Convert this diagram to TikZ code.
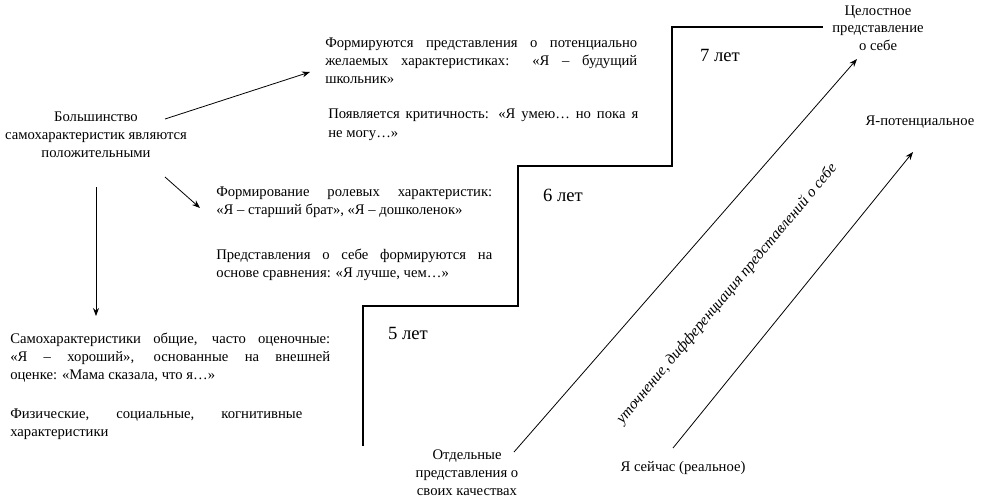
\documentclass[tikz,border=0pt]{standalone}
\usepackage{fontspec}
\setmainfont{Liberation Serif}
\usetikzlibrary{arrows.meta}
\newdimen\pxu \pxu=0.75pt
\newcommand\jline[2]{\makebox[#1\pxu][s]{#2}}
\tikzset{
  txt/.style={inner sep=0pt, align=left, font=\fontsize{11}{13.5}\selectfont},
  ctxt/.style={inner sep=0pt, align=center, font=\fontsize{11}{13.5}\selectfont},
  agelbl/.style={inner sep=0pt, font=\fontsize{14}{16}\selectfont},
  arr/.style={line width=0.6pt, -{Stealth[length=6pt,width=4.5pt]}},
  stair/.style={line width=1.2pt}
}
\begin{document}
\begin{tikzpicture}[x=0.75pt,y=-0.75pt]
\useasboundingbox (0,0) rectangle (981,503);

% left column (anchor=base is the baseline of the last line)
\node[ctxt, anchor=base] (maj) at (96,157) {Большинство\\самохарактеристик являются\\положительными};

\node[txt, anchor=base west] (ba) at (325,84) {\jline{312}{Формируются представления о потенциально}\\\jline{312}{желаемых характеристиках: «Я – будущий}\\школьник»};
\node[txt, anchor=base west] (bb) at (328,137) {\jline{310}{Появляется критичность: «Я умею… но пока я}\\не могу…»};
\node[txt, anchor=base west] (bc) at (216,214) {\jline{276}{Формирование ролевых характеристик:}\\«Я – старший брат», «Я – дошколенок»};
\node[txt, anchor=base west] (bd) at (216,277) {\jline{276}{Представления о себе формируются на}\\основе сравнения: «Я лучше, чем…»};
\node[txt, anchor=base west] (be) at (10,379) {\jline{320}{Самохарактеристики общие, часто оценочные:}\\\jline{320}{«Я – хороший», основанные на внешней}\\оценке: «Мама сказала, что я…»};
\node[txt, anchor=base west] (bf) at (10,436) {\jline{292}{Физические, социальные, когнитивные}\\характеристики};

\coordinate (m1) at (165,119);
\coordinate (t1) at (310,72);
\coordinate (m2) at (165,177);
\coordinate (t2) at (200,208);
\coordinate (m3) at (96,187);
\coordinate (t3) at (96,316);
\draw[arr] (m1) -- (t1);
\draw[arr] (m2) -- (t2);
\draw[arr] (m3) -- (t3);

% staircase
\draw[stair] (363,446) -- (363,306) -- (518,306) -- (518,166) -- (672,166) -- (672,27) -- (823,27);
\node[agelbl] (a5) at (408,333) {5 лет};
\node[agelbl] (a6) at (563,195) {6 лет};
\node[agelbl] (a7) at (720,55) {7 лет};

% right part
\node[ctxt, anchor=base] (whole) at (878,51) {Целостное\\представление\\о себе};
\node[ctxt, anchor=base] (pot) at (920,125) {Я-потенциальное};
\node[ctxt, anchor=base] (sep) at (467,495) {Отдельные\\представления о\\своих качествах};
\node[ctxt, anchor=base] (now) at (683,471) {Я сейчас (реальное)};

\coordinate (s1) at (514,452);
\coordinate (e1) at (857,59);
\coordinate (s2) at (673,448);
\coordinate (e2) at (913,152);
\draw[arr] (s1) -- (e1);
\draw[arr] (s2) -- (e2);

\node[inner sep=0pt, rotate=50, font=\fontsize{11.5}{13.5}\selectfont\itshape] (diff) at (727,294) {уточнение, дифференциация представлений о себе};
\end{tikzpicture}
\end{document}
